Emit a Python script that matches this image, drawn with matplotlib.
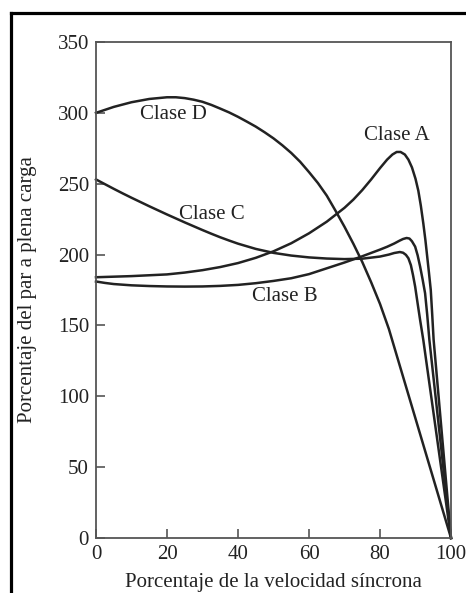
import matplotlib.pyplot as plt
from matplotlib.lines import Line2D

# curves (speed %, torque %)
clase_a_x = [0, 10, 20, 25, 30, 35, 40, 45, 50, 55, 60, 65, 70, 72.5, 75, 77.5, 80, 82, 83.5, 84.7,
             85.8, 87, 88, 89, 90, 90.8, 91.5, 92.2, 92.8, 93.3, 93.8, 94.3, 94.7, 95.1, 100]
clase_a_y = [184, 184.8, 186, 187.3, 189, 191.2, 194, 197.7, 202.3, 208, 215, 223.2, 233, 238.8, 245.5, 253, 261, 267, 270.6, 272.4,
             272.4, 270.6, 267, 261.5, 253.5, 245, 234.5, 222, 210, 198.5, 187, 175, 158, 140, 0]

clase_b_x = [0, 2.5, 5, 10, 15, 20, 25, 30, 35, 40, 45, 50, 55, 60, 65, 70, 75, 80, 82, 84, 85.5,
             86.5, 87.5, 88.3, 89, 89.9, 90.6, 91.3, 92, 92.7, 93.3, 93.9, 100]
clase_b_y = [181, 180, 179.2, 178.3, 177.8, 177.5, 177.4, 177.5, 177.9, 178.6, 179.8, 181.4, 183.3, 186.2, 190.3, 194.4, 198.8, 203.5, 205.5, 207.8, 209.8,
             211, 211.7, 211.3, 209.4, 205.6, 199.5, 191.5, 182.5, 172.7, 157.5, 140, 0]

clase_c_x = [0, 2.5, 5, 7.5, 10, 12.5, 15, 17.5, 20, 22.5, 25, 27.5, 30, 32.5, 35, 37.5, 40, 45, 50, 55, 60, 65, 70, 75,
             80, 82.5, 84, 85.6, 86.5, 87.3, 88, 88.7, 89.3, 89.9, 90.6, 91.3, 92.2, 100]
clase_c_y = [253, 249.7, 246.4, 243.2, 240.1, 237.1, 234.1, 231.2, 228.3, 225.5, 222.7, 220, 217.3, 214.7, 212.2, 209.9, 207.7, 204, 201.2, 199.3, 198, 197.2, 196.8, 197.1,
             198.6, 200, 201.1, 201.8, 201.3, 199.8, 197.4, 192.5, 185.5, 177.4, 165.5, 153.8, 139.7, 0]

clase_d_x = [0, 5, 10, 15, 20, 22.5, 25, 27.5, 30, 32.5, 35, 37.5, 40, 42.5, 45, 47.5, 50, 52.5, 55, 57.5,
             60, 62.5, 65, 67.5, 70, 72.5, 75, 77.5, 80, 82.5, 100]
clase_d_y = [300, 304.2, 307.5, 309.8, 311, 311, 310.4, 309.3, 307.8, 305.6, 303, 300.3, 297.2, 293.8, 290.3, 286.3, 282, 277.1, 271.7, 265.5,
             258.2, 250.5, 241.6, 230.8, 219.6, 207.6, 194.8, 180.5, 165.2, 147.5, 0]

etiquetas = ["Clase A", "Clase B", "Clase C", "Clase D"]
etiqueta_pos = [(84.7, 284), (53.2, 170.6), (32.6, 228.6), (21.7, 299)]

xticks = [0, 20, 40, 60, 80, 100]
yticks = [0, 50, 100, 150, 200, 250, 300, 350]

plt.rcParams['font.family'] = ['Liberation Serif', 'DejaVu Serif']

fig = plt.figure(figsize=(4.66, 5.93), dpi=100)
ax = fig.add_axes([96 / 466, 55 / 593, 355 / 466, 496 / 593])

curvas = [(clase_a_x, clase_a_y), (clase_b_x, clase_b_y),
          (clase_c_x, clase_c_y), (clase_d_x, clase_d_y)]
for cx, cy in curvas:
    ax.plot(cx, cy, color='#222222', lw=1.8, solid_joinstyle='round', clip_on=False)

for txt, (tx, ty) in zip(etiquetas, etiqueta_pos):
    ax.text(tx, ty, txt, fontsize=15, color='#222222', ha='center', va='center')

ax.set_xlim(0, 100)
ax.set_ylim(0, 350)
ax.set_xticks(xticks)
ax.set_yticks(yticks)
ax.tick_params(direction='in', length=6.5, width=1.2, color='#555555',
               labelsize=15, labelcolor='#222222', pad=5)
for t in ax.yaxis.get_major_ticks():
    if t.get_loc() >= 250:
        t.tick1line.set_visible(False)

for s in ax.spines.values():
    s.set_color('#555555')
    s.set_linewidth(1.3)

fig.text(28 / 466, 1 - 290 / 593, "Porcentaje del par a plena carga", rotation=90,
         fontsize=15, color='#222222', ha='center', va='center')
fig.text(273 / 466, 1 / 593, "Porcentaje de la velocidad síncrona",
         fontsize=15, color='#222222', ha='center', va='bottom')

# outer frame (left and top edges of the cropped figure box)
fx = 10.5 / 466
fy = 1 - 12.5 / 593
fig.add_artist(Line2D([fx, fx], [0, fy], transform=fig.transFigure, color='black', lw=2.3))
fig.add_artist(Line2D([fx, 1], [fy, fy], transform=fig.transFigure, color='black', lw=2.3))

fig.savefig('out.png', dpi=100)
